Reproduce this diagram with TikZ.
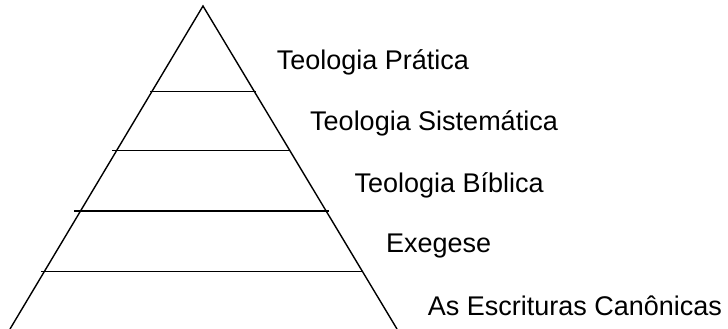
\documentclass[tikz,border=0pt]{standalone}
\usepackage{fontspec}
\setmainfont{Liberation Sans}
\begin{document}
\begin{tikzpicture}[x=1pt,y=-1pt,
  edge/.style={line width=1.4pt,line cap=butt},
  lbl/.style={anchor=base west,inner sep=0pt,font=\fontsize{27}{30}\selectfont}]
\useasboundingbox[fill=white] (0,0) rectangle (728,329);
\coordinate (apex) at (203,6);
\coordinate (bl) at (10,329);
\coordinate (br) at (397,329);
\draw[edge,line join=miter] (bl) -- (apex) -- (br);
\coordinate (l1a) at (150,91.7); \coordinate (l1b) at (256,91.7);
\coordinate (l2a) at (112,150.7); \coordinate (l2b) at (289,150.7);
\coordinate (l3a) at (74,211); \coordinate (l3b) at (329,211);
\coordinate (l4a) at (41,271.7); \coordinate (l4b) at (362,271.7);
\draw[edge] (l1a) -- (l1b);
\draw[edge] (l2a) -- (l2b);
\draw[edge] (l3a) -- (l3b);
\draw[edge] (l4a) -- (l4b);
\node[lbl] (t1) at (276.7,69.3) {Teologia Prática};
\node[lbl] (t2) at (310,130.7) {Teologia Sistemática};
\node[lbl] (t3) at (354.3,192.3) {Teologia Bíblica};
\node[lbl] (t4) at (386,252.7) {Exegese};
\node[lbl] (t5) at (427.7,315.7) {As Escrituras Canônicas};
\end{tikzpicture}
\end{document}
